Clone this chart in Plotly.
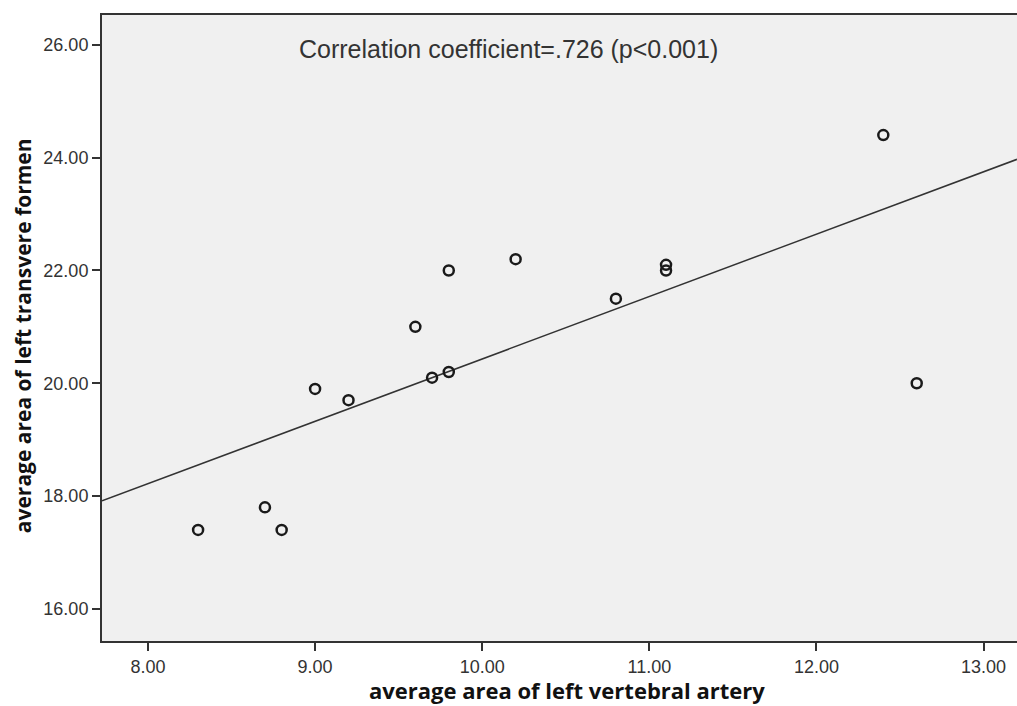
import numpy as np
import plotly.graph_objects as go

# Data
artery = [8.3, 8.7, 8.8, 9.0, 9.2, 9.6, 9.7, 9.8, 9.8, 10.2, 10.8, 11.1, 11.1, 12.4, 12.6]
foramen = [17.4, 17.8, 17.4, 19.9, 19.7, 21.0, 20.1, 20.2, 22.0, 22.2, 21.5, 22.1, 22.0, 24.4, 20.0]
x_ticks = [8, 9, 10, 11, 12, 13]
y_ticks = [16, 18, 20, 22, 24, 26]
x_range = [7.725, 13.2]
y_range = [15.43, 26.53]
x_title = "average area of left vertebral artery"
y_title = "average area of left transvere formen"
note = "Correlation coefficient=.726 (p<0.001)"

slope, intercept = np.polyfit(artery, foramen, 1)
fit_x = np.array(x_range)
fit_y = slope * fit_x + intercept

fig = go.Figure()
fig.add_trace(go.Scatter(
    x=fit_x, y=fit_y, mode="lines",
    line=dict(color="#333333", width=1.6), hoverinfo="skip", showlegend=False))
fig.add_trace(go.Scatter(
    x=artery, y=foramen, mode="markers",
    marker=dict(symbol="circle-open", size=10, color="#1a1a1a", line=dict(width=2.5)),
    showlegend=False))

fig.add_annotation(
    x=0.444, y=25.92, xref="paper", yref="y", showarrow=False, text=note,
    font=dict(family="Liberation Sans, Arial", size=25, color="#333333"))
# axis titles
fig.add_annotation(
    x=0.508, y=-0.078, xref="paper", yref="paper", showarrow=False,
    text=f"<b>{x_title}</b>", xanchor="center", yanchor="middle",
    font=dict(family="Open Sans", size=22, color="#111111"))
fig.add_annotation(
    x=-0.0863, y=0.487, xref="paper", yref="paper", showarrow=False,
    text=f"<b>{y_title}</b>", textangle=-90, xanchor="center", yanchor="middle",
    font=dict(family="Open Sans", size=21, color="#111111"))

fig.update_layout(
    width=1017, height=706,
    margin=dict(l=102, r=0, t=15, b=65, autoexpand=False),
    paper_bgcolor="white", plot_bgcolor="#f0f0f0",
    font=dict(family="Liberation Sans, Arial", size=18, color="#333333"),
    xaxis=dict(
        range=x_range, tickvals=x_ticks, ticktext=[f"{v:.2f}" for v in x_ticks],
        automargin=False,
        showgrid=False, zeroline=False, showline=True, linecolor="#333333", linewidth=2,
        mirror=True, ticks="outside", ticklen=8, tickwidth=2, tickcolor="#333333",
        tickfont=dict(size=18, color="#333333")),
    yaxis=dict(
        range=y_range, tickvals=y_ticks, ticktext=[f"{v:.2f}" for v in y_ticks],
        automargin=False,
        showgrid=False, zeroline=False, showline=True, linecolor="#333333", linewidth=2,
        ticks="outside", ticklen=8, tickwidth=2, tickcolor="#333333",
        tickfont=dict(size=18, color="#333333")),
)

fig.write_html(
    "out.html",
    config={"displayModeBar": False},
    post_script="document.body.style.margin='0';document.body.style.overflow='hidden';")
